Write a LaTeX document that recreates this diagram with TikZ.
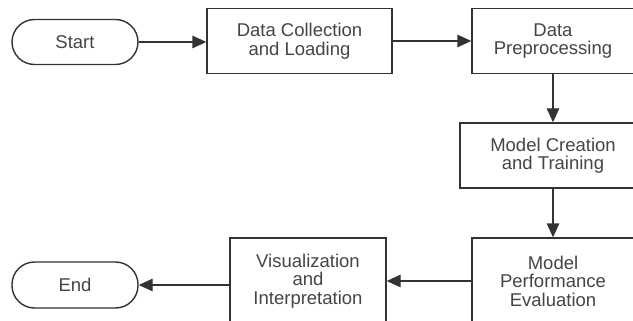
\documentclass[tikz,border=0pt]{standalone}
\usepackage{fontspec}
\setmainfont{Liberation Sans}
\usetikzlibrary{arrows.meta}
\definecolor{edge}{HTML}{333333}
\definecolor{ink}{HTML}{454545}
\tikzset{
  base/.style={draw=edge, line width=1.4pt, text=ink, align=center,
    font=\fontsize{18.5}{18.5}\selectfont, inner sep=0pt},
  pill/.style={base, rounded corners=22.5pt, minimum width=126pt, minimum height=45pt},
  stepbox/.style={base, rectangle},
  flow/.style={draw=edge, line width=1.4pt, -{Triangle[length=14pt, width=12.5pt]}}
}
\begin{document}
\begin{tikzpicture}[x=1pt, y=-1pt]
\useasboundingbox (0,0) rectangle (633,321);
\clip (0,0) rectangle (633,321);
\fill[white] (0,0) rectangle (633,321);

\node[pill] (start) at (75,42) {Start};
\node[stepbox, minimum width=185pt, minimum height=65pt] (collect) at (299.5,41) {Data Collection\\and Loading};
\node[stepbox, minimum width=162pt, minimum height=65pt] (prep) at (553,41) {Data\\Preprocessing};
\node[stepbox, minimum width=186pt, minimum height=65pt] (train) at (553,155.5) {Model Creation\\and Training};
\node[stepbox, minimum width=162pt, minimum height=86pt] (eval) at (553,281) {Model\\Performance\\Evaluation};
\node[stepbox, minimum width=156pt, minimum height=86pt] (vis) at (308,281) {Visualization\\and\\Interpretation};
\node[pill, minimum height=46pt] (end) at (75,285) {End};

\draw[flow] (start.east) -- (start.east -| collect.west);
\draw[flow] (collect.east) -- (prep.west);
\draw[flow] (prep.south) -- (train.north -| prep.south);
\draw[flow] (train.south -| eval.north) -- (eval.north);
\draw[flow] (eval.west) -- (vis.east);
\draw[flow] (vis.west |- end.east) -- (end.east);
\end{tikzpicture}
\end{document}
